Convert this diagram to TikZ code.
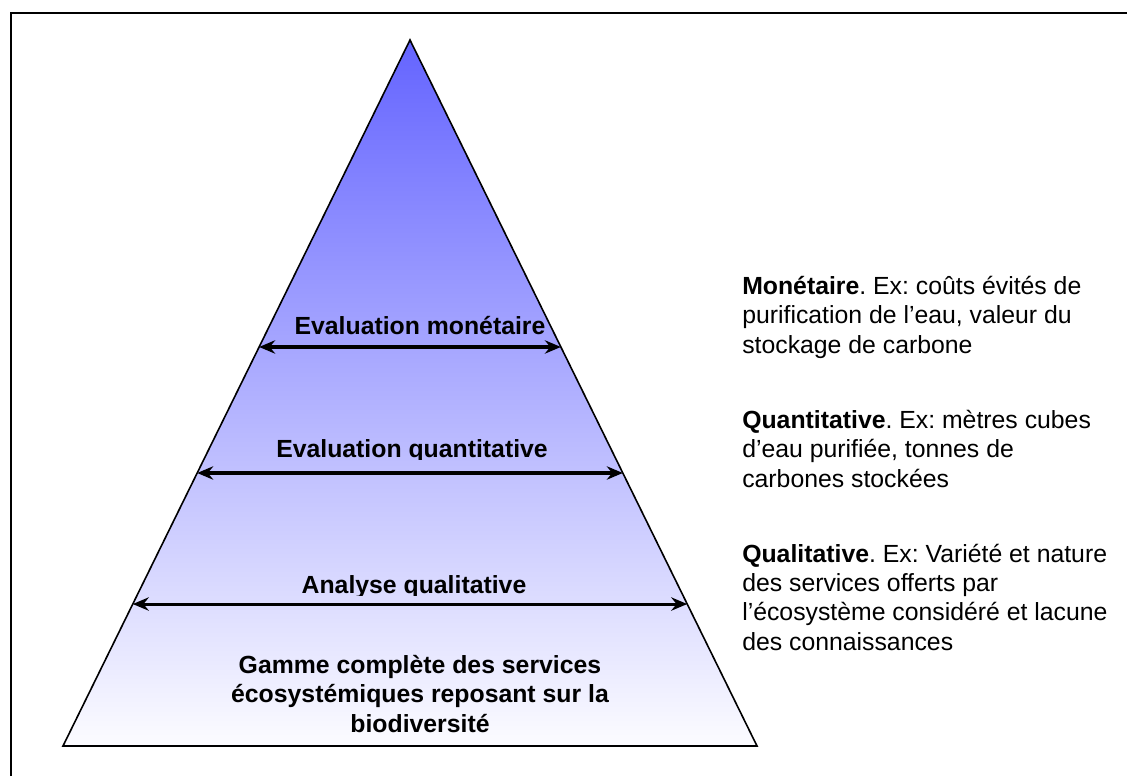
\documentclass[tikz,border=0pt]{standalone}
\usepackage{fontspec}
\setmainfont{Liberation Sans}
\usetikzlibrary{arrows.meta,calc}
\definecolor{apexblue}{RGB}{100,100,255}
\definecolor{midblue}{RGB}{198,198,255}
\definecolor{basewhite}{RGB}{252,252,255}
\frenchspacing
\begin{document}
\begin{tikzpicture}[x=0.75pt,y=-0.75pt,
  levelarrow/.style={line width=2.3pt,
    {Stealth[length=12pt,width=10pt,inset=4pt]}-{Stealth[length=12pt,width=10pt,inset=4pt]}},
  levellabel/.style={font=\bfseries\fontsize{18.6}{22}\selectfont, anchor=base, inner sep=0pt, align=center},
  note/.style={font=\fontsize{18.6}{21.8}\selectfont, anchor=base west, align=left, inner sep=0pt}]

% page and frame
\useasboundingbox (0,0) rectangle (1127,776);
\fill[white] (0,0) rectangle (1127,776);
\draw[line width=1.5pt] (11,776) -- (11,13) -- (1127,13);

% pyramid
\coordinate (apex) at (410,40);
\coordinate (bl) at (63,746);
\coordinate (br) at (757,746);
\shade[top color=apexblue, middle color=midblue, bottom color=basewhite]
  (apex) -- (br) -- (bl) -- cycle;
\draw[line width=1.2pt, line join=miter] (apex) -- (br) -- (bl) -- cycle;

% level arrow end points on the sides of the pyramid
\coordinate (monL) at ($(apex)!0.4348!(bl)$);
\coordinate (monR) at ($(apex)!0.4348!(br)$);
\coordinate (quaL) at ($(apex)!0.6133!(bl)$);
\coordinate (quaR) at ($(apex)!0.6133!(br)$);
\coordinate (quiL) at ($(apex)!0.7989!(bl)$);
\coordinate (quiR) at ($(apex)!0.7989!(br)$);

\draw[levelarrow] (monL) -- (monR);
\draw[levelarrow] (quaL) -- (quaR);
\draw[levelarrow] (quiL) -- (quiR);

% level labels (descenders of the lower two are cut by their boxes)
\node[levellabel] (lmon) at (420,334) {Evaluation monétaire};
\begin{scope}
  \clip (0,0) rectangle (1127,459);
  \node[levellabel] (lqua) at (412,457) {Evaluation quantitative};
\end{scope}
\begin{scope}
  \clip (0,0) rectangle (1127,595);
  \node[levellabel] (lqui) at (414,593) {Analyse qualitative};
\end{scope}
\node[levellabel] (lbase) at (420,732)
  {Gamme complète des services\\écosystémiques reposant sur la\\biodiversité};

% notes on the right (anchored at the baseline of their last line)
\node[note] (nmon) at (742,353)
  {\textbf{Monétaire}. Ex: coûts évités de\\purification de l’eau, valeur du\\stockage de carbone};
\node[note] (nqua) at (742,487)
  {\textbf{Quantitative}. Ex: mètres cubes\\d’eau purifiée, tonnes de\\carbones stockées};
\node[note] (nqui) at (742,650)
  {\textbf{Qualitative}. Ex: Variété et nature\\des services offerts par\\l’écosystème considéré et lacune\\des connaissances};
\end{tikzpicture}
\end{document}
